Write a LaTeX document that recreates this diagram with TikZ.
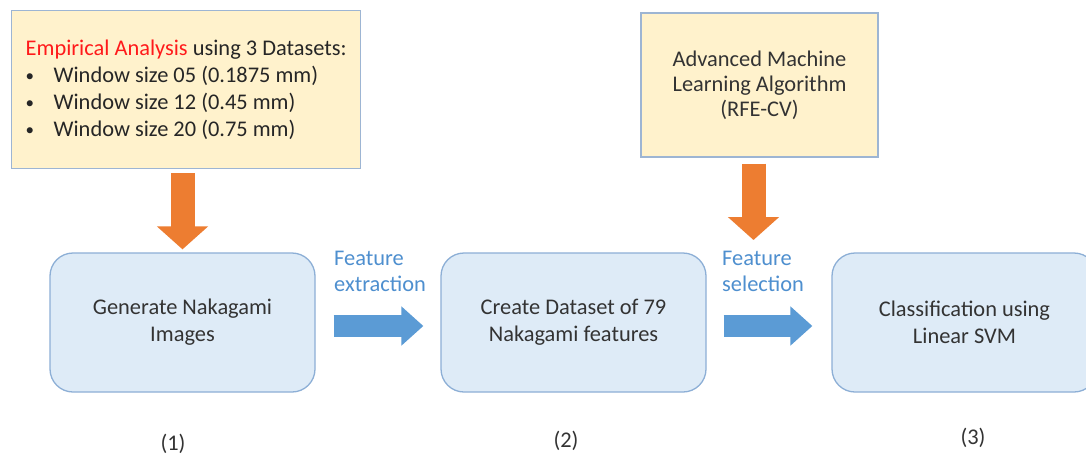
\documentclass[tikz,border=0pt]{standalone}
\usepackage{fontspec}
\setmainfont{Carlito}
\usetikzlibrary{arrows.meta}
\definecolor{noteFill}{HTML}{FFF2CC}
\definecolor{noteEdge}{HTML}{9DB5D3}
\definecolor{stepFill}{HTML}{DEEBF7}
\definecolor{stepEdge}{HTML}{8DAFD6}
\definecolor{flowOrange}{HTML}{ED7D31}
\definecolor{flowBlue}{HTML}{5B9BD5}
\definecolor{labelBlue}{HTML}{4E8FCF}
\definecolor{bodyText}{HTML}{333333}
\definecolor{accentRed}{HTML}{FF1A1A}
\newcommand{\listdot}{\makebox[28pt][l]{\raisebox{1pt}{\fontsize{17}{17}\selectfont •}}}
\begin{document}
\begin{tikzpicture}[x=1pt, y=-1pt,
  every node/.style={text=bodyText, font=\fontsize{22.4}{27}\selectfont},
  notebox/.style={draw=noteEdge, fill=noteFill, line width=1.3pt, inner sep=0pt},
  stepbox/.style={draw=stepEdge, fill=stepFill, line width=1.3pt, rounded corners=23pt,
    minimum width=265pt, minimum height=139pt, align=center, inner sep=0pt},
  flowlabel/.style={text=labelBlue, align=left, inner sep=0pt, anchor=north west,
    font=\fontsize{22.4}{26}\selectfont},
  stepnum/.style={inner sep=0pt},
  orangearrow/.style={draw=flowOrange, line width=24pt,
    -{Triangle[length=23pt, width=50pt]}},
  bluearrow/.style={draw=flowBlue, line width=22pt,
    -{Triangle[length=22pt, width=38pt]}}]

  % canvas
  \fill[white] (0,0) rectangle (1086,456);
  \useasboundingbox (0,0) rectangle (1086,456);

  % input notes
  \node[notebox, anchor=north west, minimum width=349pt, minimum height=158pt,
        align=left, text=black!85, font=\fontsize{22.4}{26.8}\selectfont] (emp) at (11,10)
    {\textcolor{accentRed}{Empirical Analysis} using 3 Datasets:\\
     \listdot Window size 05 (0.1875 mm)\\
     \listdot Window size 12 (0.45 mm)\\
     \listdot Window size 20 (0.75 mm)};
  \node[notebox, minimum width=237pt, minimum height=144pt, align=center,
        font=\fontsize{22.4}{25}\selectfont] (rfe) at (759.5,85)
    {Advanced Machine\\Learning Algorithm\\(RFE-CV)};

  % pipeline steps
  \node[stepbox] (gen)  at (182.5,322.5) {Generate Nakagami\\Images};
  \node[stepbox] (data) at (573.5,322.5) {Create Dataset of 79\\Nakagami features};
  \node[stepbox] (cls)  at (964.5,322.5) {Classification using\\Linear SVM};

  % step numbers
  \node[stepnum] (n1) at (173,444) {(1)};
  \node[stepnum] (n2) at (566,441) {(2)};
  \node[stepnum] (n3) at (973,438) {(3)};

  % arrow captions
  \node[flowlabel] (ext) at (334,251) {Feature\\extraction};
  \node[flowlabel] (sel) at (722,251) {Feature\\selection};

  % flow arrows
  \coordinate (selTip) at (753.5,240);
  \draw[orangearrow, shorten <=4pt, shorten >=3pt] (emp.south -| gen.north) -- (gen.north);
  \draw[orangearrow, shorten <=6pt] (rfe.south -| selTip) -- (selTip);
  \draw[bluearrow, shorten <=18pt, shorten >=17pt]
    ([yshift=-3.5pt]gen.east) -- ([yshift=-3.5pt]data.west);
  \draw[bluearrow, shorten <=17pt, shorten >=19pt]
    ([yshift=-3.5pt]data.east) -- ([yshift=-3.5pt]cls.west);
\end{tikzpicture}
\end{document}
